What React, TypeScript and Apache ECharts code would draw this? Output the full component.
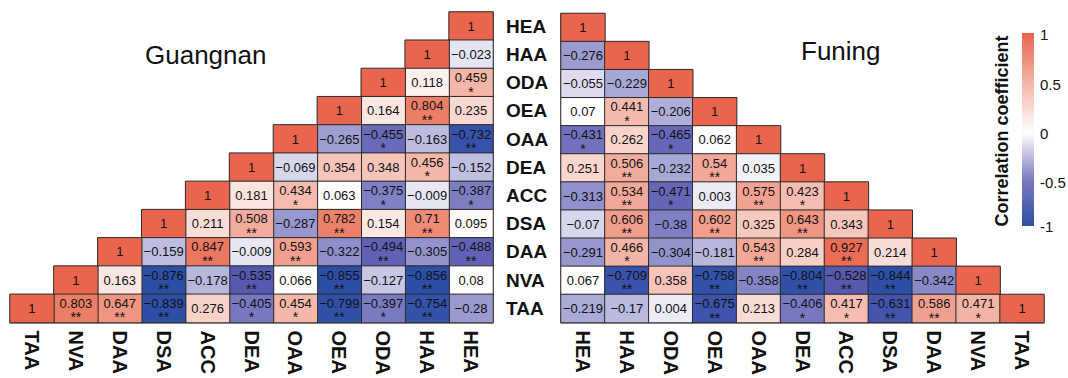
import React, { useEffect, useRef } from "react";
import * as echarts from "echarts";

const variables = ["HEA", "HAA", "ODA", "OEA", "OAA", "DEA", "ACC", "DSA", "DAA", "NVA", "TAA"];

// Lower triangles, row i lists columns HEA..variables[i]
const guangnanValues = [
  [1],
  [-0.023, 1],
  [0.459, 0.118, 1],
  [0.235, 0.804, 0.164, 1],
  [-0.732, -0.163, -0.455, -0.265, 1],
  [-0.152, 0.456, 0.348, 0.354, -0.069, 1],
  [-0.387, -0.009, -0.375, 0.063, 0.434, 0.181, 1],
  [0.095, 0.71, 0.154, 0.782, -0.287, 0.508, 0.211, 1],
  [-0.488, -0.305, -0.494, -0.322, 0.593, -0.009, 0.847, -0.159, 1],
  [0.08, -0.856, -0.127, -0.855, 0.066, -0.535, -0.178, -0.876, 0.163, 1],
  [-0.28, -0.754, -0.397, -0.799, 0.454, -0.405, 0.276, -0.839, 0.647, 0.803, 1],
];
const guangnanStars = [
  [""],
  ["", ""],
  ["*", "", ""],
  ["", "**", "", ""],
  ["**", "", "*", "", ""],
  ["", "*", "", "", "", ""],
  ["*", "", "*", "", "*", "", ""],
  ["", "**", "", "**", "", "**", "", ""],
  ["**", "", "**", "", "**", "", "**", "", ""],
  ["", "**", "", "**", "", "**", "", "**", "", ""],
  ["", "**", "*", "**", "*", "*", "", "**", "**", "**", ""],
];
const funingValues = [
  [1],
  [-0.276, 1],
  [-0.055, -0.229, 1],
  [0.07, 0.441, -0.206, 1],
  [-0.431, 0.262, -0.465, 0.062, 1],
  [0.251, 0.506, -0.232, 0.54, 0.035, 1],
  [-0.313, 0.534, -0.471, 0.003, 0.575, 0.423, 1],
  [-0.07, 0.606, -0.38, 0.602, 0.325, 0.643, 0.343, 1],
  [-0.291, 0.466, -0.304, -0.181, 0.543, 0.284, 0.927, 0.214, 1],
  [0.067, -0.709, 0.358, -0.758, -0.358, -0.804, -0.528, -0.844, -0.342, 1],
  [-0.219, -0.17, 0.004, -0.675, 0.213, -0.406, 0.417, -0.631, 0.586, 0.471, 1],
];
const funingStars = [
  [""],
  ["", ""],
  ["", "", ""],
  ["", "*", "", ""],
  ["*", "", "*", "", ""],
  ["", "**", "", "**", "", ""],
  ["", "**", "*", "", "**", "*", ""],
  ["", "**", "", "**", "", "**", "", ""],
  ["", "*", "", "", "**", "", "**", "", ""],
  ["", "**", "", "**", "", "**", "**", "**", "", ""],
  ["", "", "", "**", "", "*", "*", "**", "**", "*", ""],
];

const colorbarLabels = ["1", "0.5", "0", "-0.5", "-1"];
const colorbarLabelY = [34, 84, 133, 182, 226];

// colour scale anchors (value, colour)
const colorAnchors: [number, string][] = [
  [-1.0, "#2a4ea5"],
  [-0.85, "#2c4fa6"],
  [-0.75, "#3452aa"],
  [-0.65, "#4053ac"],
  [-0.535, "#5558ae"],
  [-0.47, "#6666b8"],
  [-0.39, "#7c7cc2"],
  [-0.3, "#9494cc"],
  [-0.2, "#b0b0da"],
  [-0.16, "#bdbde0"],
  [-0.06, "#dadaed"],
  [-0.015, "#e6e6f3"],
  [0.004, "#ebebf5"],
  [0.035, "#f0f0f8"],
  [0.065, "#ffffff"],
  [0.09, "#fffbfa"],
  [0.12, "#fdf0ec"],
  [0.16, "#fbe8e3"],
  [0.22, "#fadbd4"],
  [0.28, "#f8d0c7"],
  [0.34, "#f6c6bb"],
  [0.43, "#f5bcb0"],
  [0.455, "#f4b7aa"],
  [0.51, "#f2ab9c"],
  [0.54, "#f2a798"],
  [0.59, "#f1a08f"],
  [0.645, "#ef9582"],
  [0.71, "#ee8a76"],
  [0.8, "#ec7f68"],
  [0.85, "#eb7660"],
  [0.93, "#ea6c55"],
  [1.0, "#e9654d"],
];

function hexToRgb(h: string) {
  const n = parseInt(h.slice(1), 16);
  return [(n >> 16) & 255, (n >> 8) & 255, n & 255];
}
function buildScaleColors(): string[] {
  const out: string[] = [];
  for (let k = 0; k <= 200; k++) {
    const v = -1 + k * 0.01;
    let i = 0;
    while (i < colorAnchors.length - 2 && v > colorAnchors[i + 1][0]) i++;
    const [v0, c0] = colorAnchors[i];
    const [v1, c1] = colorAnchors[i + 1];
    const t = Math.max(0, Math.min(1, (v - v0) / (v1 - v0)));
    const a = hexToRgb(c0);
    const b = hexToRgb(c1);
    const c = a.map((x, m) => Math.round(x + (b[m] - x) * t));
    out.push(`rgb(${c[0]},${c[1]},${c[2]})`);
  }
  return out;
}

function fmt(v: number) {
  return String(v).replace("-", "\u2212");
}

function buildData(values: number[][], stars: string[][], reversedX: boolean) {
  const out: any[] = [];
  values.forEach((row, i) =>
    row.forEach((v, j) => {
      out.push({ value: [reversedX ? variables.length - 1 - j : j, i, v], star: stars[i][j] });
    })
  );
  return out;
}

const FONT = "Liberation Sans, Arial, Helvetica, sans-serif";

export default function App() {
  const ref = useRef<HTMLDivElement>(null);
  useEffect(() => {
    document.body.style.margin = "0";
    if (!ref.current) return;
    const chart = echarts.init(ref.current, null, { renderer: "svg" });
    const leftX = [...variables].reverse();
    const labelCfg = {
      show: true,
      position: "inside",
      formatter: (p: any) => {
        const t = fmt(p.data.value[2]);
        return p.data.star ? `{v|${t}}\n{s|${p.data.star}}` : `{c|${t}}`;
      },
      rich: {
        v: { fontSize: 13, lineHeight: 18, color: "#111", fontFamily: FONT },
        s: { fontSize: 14, lineHeight: 10, color: "#111", fontFamily: FONT },
        c: { fontSize: 13, lineHeight: 13, color: "#111", fontFamily: FONT },
      },
    };
    const axisLabelX = {
      rotate: -90,
      interval: 0,
      fontSize: 20,
      fontWeight: "bold",
      color: "#111",
      fontFamily: FONT,
      margin: 8,
    };
    chart.setOption({
      animation: false,
      textStyle: { fontFamily: FONT },
      title: [
        { text: "Guangnan", left: 140, top: 37, textStyle: { fontSize: 26, fontWeight: "normal", color: "#111", fontFamily: FONT } },
        { text: "Funing", left: 796, top: 33, textStyle: { fontSize: 26, fontWeight: "normal", color: "#111", fontFamily: FONT } },
      ],
      grid: [
        { left: 10, top: 12, width: 483, height: 321.5 },
        { left: 561, top: 13.5, width: 483, height: 322 },
      ],
      xAxis: [
        {
          type: "category", gridIndex: 0, data: leftX, position: "bottom",
          axisTick: { show: false },
          axisLine: { show: true, lineStyle: { color: "#888", width: 1.5 } },
          axisLabel: axisLabelX, splitArea: { show: false }, splitLine: { show: false },
        },
        {
          type: "category", gridIndex: 1, data: variables, position: "bottom",
          axisTick: { show: false },
          axisLine: { show: true, lineStyle: { color: "#888", width: 1.5 } },
          axisLabel: axisLabelX, splitArea: { show: false }, splitLine: { show: false },
        },
      ],
      yAxis: [
        {
          type: "category", gridIndex: 0, data: variables, inverse: true, position: "right",
          axisTick: { show: false },
          axisLine: { show: true, lineStyle: { color: "#888", width: 1.5 } },
          axisLabel: { fontSize: 19, fontWeight: "bold", color: "#111", fontFamily: FONT, margin: 13 },
          splitArea: { show: false }, splitLine: { show: false },
        },
        {
          type: "category", gridIndex: 1, data: variables, inverse: true, position: "left",
          axisTick: { show: false },
          axisLine: { show: true, lineStyle: { color: "#888", width: 1.5 } },
          axisLabel: { show: false },
          splitArea: { show: false }, splitLine: { show: false },
        },
      ],
      visualMap: {
        show: false,
        type: "continuous",
        min: -1,
        max: 1,
        dimension: 2,
        seriesIndex: [0, 1],
        inRange: { color: buildScaleColors() },
      },
      series: [
        {
          type: "heatmap", xAxisIndex: 0, yAxisIndex: 0,
          data: buildData(guangnanValues, guangnanStars, true),
          itemStyle: { borderColor: "#2a2a2a", borderWidth: 1 },
          label: labelCfg,
          emphasis: { disabled: true },
        },
        {
          type: "heatmap", xAxisIndex: 1, yAxisIndex: 1,
          data: buildData(funingValues, funingStars, false),
          itemStyle: { borderColor: "#2a2a2a", borderWidth: 1 },
          label: labelCfg,
          emphasis: { disabled: true },
        },
      ],
      graphic: [
        {
          type: "rect",
          shape: { x: 1022, y: 33, width: 12, height: 193 },
          style: {
            fill: new echarts.graphic.LinearGradient(0, 0, 0, 1, [
              { offset: 0, color: "#e9654d" },
              { offset: 0.26, color: "#f4b5a8" },
              { offset: 0.518, color: "#ffffff" },
              { offset: 0.76, color: "#7a7ac0" },
              { offset: 1, color: "#2d4fa6" },
            ]),
          },
        },
        ...colorbarLabels.map((t, k) => ({
          type: "text",
          x: 1040,
          y: colorbarLabelY[k],
          style: { text: t, fontSize: 15, fill: "#111", fontFamily: FONT, textAlign: "left", textVerticalAlign: "middle" },
        })),
        {
          type: "text",
          x: 1002,
          y: 131,
          rotation: Math.PI / 2,
          style: {
            text: "Correlation coefficient",
            fontSize: 18,
            fontWeight: "bold",
            fill: "#111",
            fontFamily: FONT,
            textAlign: "center",
            textVerticalAlign: "middle",
          },
        },
      ],
    });
    return () => chart.dispose();
  }, []);
  return <div ref={ref} style={{ width: 1068, height: 378 }} />;
}
